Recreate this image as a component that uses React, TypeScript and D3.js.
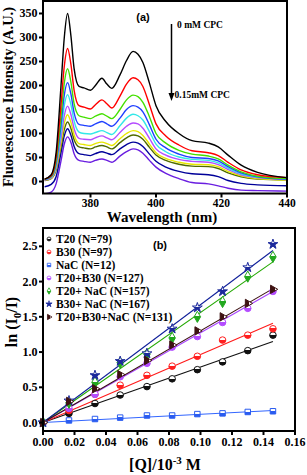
// Two stacked panels: (a) fluorescence spectra quenched by CPC, (b) ln(I0/I) vs [Q] fits.
import * as d3 from "d3";

const WAVE = [366, 368, 369.5, 371, 372, 373, 374, 375, 376.5, 378, 380, 381.5, 383.5, 385, 386.5, 389, 391, 393, 394.5, 396, 398, 400, 403, 407, 411, 416, 419, 422, 426, 431, 440];

const SPEC_COLORS = ["#000000", "#ff0000", "#44e000", "#1f3fff", "#33e8e8", "#b44cff", "#e8e800", "#4f6a00", "#000099", "#6a1ee0"];
const SPECTRA: number[][] = [
  [5, 14, 60, 200, 300, 350, 305, 235, 198, 195, 190, 200, 215, 203, 194, 222, 252, 271, 265, 248, 205, 158, 125, 100, 85, 80, 72, 55, 34, 19, 8],
  [5, 12, 50, 160, 240, 277, 245, 190, 158, 155, 151, 160, 170, 162, 153, 178, 203, 216, 212, 198, 160, 120, 95, 76, 64, 60, 54, 40, 24, 14, 8],
  [5, 11, 42, 135, 205, 235, 208, 162, 137, 134, 131, 136, 141, 136, 131, 150, 170, 180, 177, 165, 135, 100, 80, 65, 57, 53, 47, 34, 20, 11, 6],
  [4, 10, 38, 118, 180, 206, 183, 143, 119, 117, 115, 120, 125, 120, 115, 132, 150, 158, 155, 145, 118, 88, 70, 57, 50, 48, 43, 31, 18, 10, 5],
  [4, 9, 34, 104, 158, 181, 161, 126, 103, 100, 99, 102, 106, 102, 98, 116, 132, 140, 137, 128, 104, 78, 62, 51, 46, 44, 39, 28, 16, 9, 5],
  [3, 8, 30, 90, 137, 157, 140, 110, 90, 88, 87, 91, 95, 91, 87, 102, 115, 122, 120, 111, 90, 68, 55, 46, 42, 40, 35, 25, 14, 8, 4],
  [3, 7, 27, 80, 121, 139, 124, 97, 79, 77, 75, 79, 82, 79, 75, 89, 100, 106, 104, 96, 78, 60, 48, 40, 36, 35, 31, 21, 12, 6, 3],
  [2, 6, 24, 72, 108, 124, 111, 87, 72, 70, 68, 72, 75, 72, 68, 81, 91, 97, 95, 88, 71, 55, 44, 36, 32, 31, 27, 18, 10, 5, 3],
  [-11, -6, 10, 60, 95, 110, 97, 73, 58, 56, 54, 58, 62, 59, 56, 68, 77, 82, 80, 73, 57, 42, 30, 21, 16, 14, 10, 2, -4, -7, -9],
  [-26, -22, -5, 43, 78, 93, 82, 58, 44, 42, 40, 44, 47, 44, 40, 53, 62, 68, 66, 59, 44, 30, 17, 6, -2, -5, -9, -14, -18, -19, -20],
];
const A_XTICKS = [380, 400, 420, 440];
const A_YTICKS = [0, 50, 100, 150, 200, 250, 300, 350];

const CONC = [0, 0.0165, 0.033, 0.049, 0.066, 0.082, 0.098, 0.114, 0.13, 0.146];
const SERIES_NAMES = ["T20 (N=79)", "B30 (N=97)", "NaC (N=12)", "T20+B30 (N=127)", "T20+ NaC (N=157)", "B30+ NaC (N=167)", "T20+B30+NaC (N=131)"];
const SERIES_COLORS = ["#111111", "#ff2020", "#2a5cf0", "#b44cff", "#22a81e", "#1c2a9c", "#3e1212"];
const LINE_COLORS = ["#111111", "#ff1a1a", "#3366ff", "#a844ff", "#22a800", "#10209a", "#3a0f0f"];
const SERIES_VALUES: number[][] = [
  [0, 0.13, 0.27, 0.39, 0.51, 0.62, 0.75, 0.86, 1.02, 1.24],
  [0, 0.17, 0.4, 0.53, 0.67, 0.8, 0.94, 1.17, 1.24, 1.33],
  [0, 0.03, 0.05, 0.07, 0.1, 0.1, 0.12, 0.13, 0.15, 0.16],
  [0, 0.2, 0.4, 0.65, 0.84, 1.07, 1.22, 1.42, 1.62, 1.86],
  [0, 0.28, 0.57, 0.85, 0.97, 1.2, 1.5, 1.71, 2.07, 2.35],
  [0, 0.31, 0.67, 0.87, 0.98, 1.33, 1.63, 1.86, 2.2, 2.53],
  [0, 0.3, 0.48, 0.68, 0.88, 1.1, 1.3, 1.5, 1.69, 1.89],
];
const FIT_END = [1.15, 1.41, 0.17, 1.86, 2.28, 2.44, 1.9];
const B_XTICKS = [0, 0.02, 0.04, 0.06, 0.08, 0.1, 0.12, 0.14, 0.16];
const B_YTICKS = [0, 0.5, 1.0, 1.5, 2.0, 2.5];

const SYMBOLS = [d3.symbolCircle, d3.symbolCircle, d3.symbolSquare, d3.symbolCircle, d3.symbolDiamond, d3.symbolStar, d3.symbolTriangle];
const SYM_ROT = [0, 0, 0, 0, 0, 0, 90];
const SYM_SIZE = [34, 34, 30, 34, 36, 30, 30];

const SERIF = "'Liberation Serif', 'Times New Roman', serif";
const SANS = "'Liberation Sans', Arial, sans-serif";

export default function App() {
  const ax = d3.scaleLinear().domain([365.5, 440]).range([43, 287]);
  const ay = d3.scaleLinear().domain([-25, 376]).range([193.5, 1]);
  const bx = d3.scaleLinear().domain([0, 0.16]).range([43, 295]);
  const by = d3.scaleLinear().domain([-0.12, 2.76]).range([431, 228]);

  const line = d3.line<number>().x((_, i) => ax(WAVE[i])).y((v) => ay(v)).curve(d3.curveMonotoneX);

  return (
    <svg width={307} height={475} style={{ position: "absolute", left: 0, top: 0, background: "#fff" }}>
      <defs>
        <clipPath id="clipA"><rect x={43} y={1} width={244} height={192.5} /></clipPath>
        {SERIES_COLORS.map((c, i) => (
          <linearGradient key={i} id={`half${i}`} x1="0" y1="0" x2="0" y2="1">
            <stop offset="0" stopColor="#fff" />
            <stop offset="0.45" stopColor="#fff" />
            <stop offset="0.45" stopColor={c} />
            <stop offset="1" stopColor={c} />
          </linearGradient>
        ))}
      </defs>

      {/* panel (a) */}
      <g clipPath="url(#clipA)">
        {SPECTRA.slice().reverse().map((s, k) => {
          const i = SPECTRA.length - 1 - k;
          return <path key={i} d={line(s) ?? ""} fill="none" stroke={SPEC_COLORS[i]} strokeWidth={1.4} />;
        })}
      </g>
      <rect x={43} y={1} width={244} height={192.5} fill="none" stroke="#000" strokeWidth={2} />
      {A_YTICKS.map((t) => (
        <g key={t}>
          <line x1={39} x2={43} y1={ay(t)} y2={ay(t)} stroke="#000" strokeWidth={2} />
          <text x={37.5} y={ay(t) + 4} textAnchor="end" fontFamily={SERIF} fontWeight="bold" fontSize={12}>{t}</text>
        </g>
      ))}
      {A_XTICKS.map((t) => (
        <g key={t}>
          <line x1={ax(t)} x2={ax(t)} y1={193.5} y2={197.5} stroke="#000" strokeWidth={2} />
          <text x={ax(t)} y={206.5} textAnchor="middle" fontFamily={SERIF} fontWeight="bold" fontSize={11.5}>{t}</text>
        </g>
      ))}
      <text x={162} y={221.5} textAnchor="middle" fontFamily={SERIF} fontWeight="bold" fontSize={15}>Wavelength (nm)</text>
      <text transform="translate(12.5,97) rotate(-90)" textAnchor="middle" fontFamily={SERIF} fontWeight="bold" fontSize={14.5}>Fluorescence Intensity (A.U.)</text>
      <text x={143} y={21} textAnchor="middle" fontFamily={SANS} fontWeight="bold" fontSize={11}>(a)</text>
      <line x1={171.5} x2={171.5} y1={24} y2={94} stroke="#000" strokeWidth={1.5} />
      <path d="M168.5,93 L174.5,93 L171.5,101 Z" fill="#000" />
      <text x={177} y={28} fontFamily={SERIF} fontWeight="bold" fontSize={9.5}>0 mM CPC</text>
      <text x={174.5} y={98} fontFamily={SERIF} fontWeight="bold" fontSize={9.5}>0.15mM CPC</text>

      {/* panel (b) */}
      {FIT_END.map((e, i) => (
        <line key={i} x1={bx(0)} y1={by(0)} x2={bx(CONC[CONC.length - 1])} y2={by(e)} stroke={LINE_COLORS[i]} strokeWidth={1.1} />
      ))}
      {SERIES_VALUES.map((vals, i) =>
        vals.map((v, j) => (
          <path key={`${i}-${j}`}
                d={d3.symbol(SYMBOLS[i], SYM_SIZE[i])() ?? ""}
                transform={`translate(${bx(CONC[j])},${by(v)}) rotate(${SYM_ROT[i]})`}
                fill={`url(#half${i})`} stroke={SERIES_COLORS[i]} strokeWidth={1} />
        ))
      )}
      <rect x={43} y={228} width={252} height={203} fill="none" stroke="#000" strokeWidth={2} />
      {B_YTICKS.map((t) => (
        <g key={t}>
          <line x1={39} x2={43} y1={by(t)} y2={by(t)} stroke="#000" strokeWidth={2} />
          <text x={37.5} y={by(t) + 4} textAnchor="end" fontFamily={SERIF} fontWeight="bold" fontSize={12}>{t.toFixed(1)}</text>
        </g>
      ))}
      {B_XTICKS.map((t) => (
        <g key={t}>
          <line x1={bx(t)} x2={bx(t)} y1={431} y2={435} stroke="#000" strokeWidth={2} />
          <text x={bx(t)} y={446} textAnchor="middle" fontFamily={SERIF} fontWeight="bold" fontSize={12}>{t.toFixed(2)}</text>
        </g>
      ))}
      <text x={165} y={470} textAnchor="middle" fontFamily={SERIF} fontWeight="bold" fontSize={16}>
        [Q]/10<tspan dy={-6} fontSize={11}>-3</tspan><tspan dy={6}> M</tspan>
      </text>
      <text transform="translate(16.5,322) rotate(-90)" textAnchor="middle" fontFamily={SERIF} fontWeight="bold" fontSize={16}>
        ln (I<tspan dy={4} fontSize={11}>0</tspan><tspan dy={-4}>/I)</tspan>
      </text>
      <text x={160} y={249} textAnchor="middle" fontFamily={SANS} fontWeight="bold" fontSize={11}>(b)</text>
      {SERIES_NAMES.map((n, i) => {
        const y = 239 + i * 13;
        return (
          <g key={n}>
            <path d={d3.symbol(SYMBOLS[i], 12)() ?? ""} transform={`translate(49,${y}) rotate(${SYM_ROT[i]})`}
                  fill={`url(#half${i})`} stroke={SERIES_COLORS[i]} strokeWidth={0.8} />
            <text x={56} y={y + 4} fontFamily={SERIF} fontWeight="bold" fontSize={11.5}>{n}</text>
          </g>
        );
      })}
    </svg>
  );
}
